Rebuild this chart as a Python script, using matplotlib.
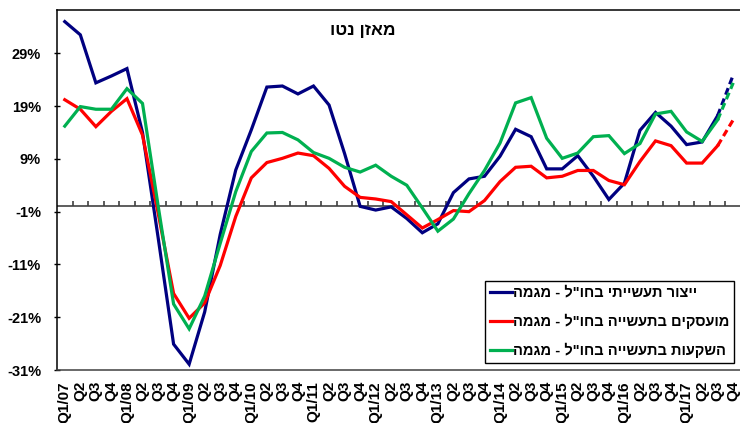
import matplotlib
matplotlib.use("Agg")
import matplotlib.pyplot as plt

plt.rcParams["font.family"] = ["Liberation Sans", "DejaVu Sans"]
plt.rcParams["font.weight"] = "bold"

# quarters Q1/07 .. Q4/17
years = ["07", "08", "09", "10", "11", "12", "13", "14", "15", "16", "17"]
quarter_labels = []
for yy in years:
    quarter_labels += [f"Q1/{yy}", "Q2", "Q3", "Q4"]

production = [35.0, 32.5, 23.4, 24.7, 26.1, 14.0, -5.8, -26.1, -29.9, -20.0, -5.3, 6.9,
              14.5, 22.6, 22.8, 21.3, 22.8, 19.2, 10.0, 0.0, -0.7, -0.1, -2.3, -5.0,
              -3.3, 2.6, 5.2, 5.7, 9.5, 14.6, 13.2, 7.1, 7.1, 9.6, 5.7, 1.3,
              4.4, 14.4, 17.8, 15.2, 11.7, 12.2, 17.2, 24.9]
employed = [20.2, 18.4, 15.1, 18.0, 20.4, 13.5, -1.2, -16.5, -21.2, -18.3, -11.2, -1.9,
            5.4, 8.3, 9.1, 10.1, 9.6, 7.2, 3.8, 1.7, 1.4, 0.9, -1.6, -4.1,
            -2.5, -0.8, -1.0, 1.1, 4.7, 7.4, 7.6, 5.4, 5.7, 6.8, 6.8, 4.9,
            4.1, 8.5, 12.4, 11.5, 8.2, 8.2, 11.5, 16.4]
investment = [15.2, 18.9, 18.4, 18.4, 22.3, 19.5, 0.2, -18.5, -23.2, -17.0, -7.0, 2.8,
              10.4, 13.9, 14.0, 12.6, 10.2, 9.1, 7.4, 6.5, 7.8, 5.7, 4.0, -0.3,
              -4.7, -2.4, 2.4, 6.8, 12.0, 19.6, 20.6, 12.9, 9.1, 10.1, 13.2, 13.4,
              10.0, 11.9, 17.5, 18.0, 14.1, 12.3, 16.4, 23.4]

series_names = ['ייצור תעשייתי בחו"ל - מגמה',
                'מועסקים בתעשייה בחו"ל - מגמה',
                'השקעות בתעשייה בחו"ל - מגמה']
series_colors = ["#000080", "#FF0000", "#00B050"]
title_text = "מאזן נטו"
y_ticks = [-31, -21, -11, -1, 9, 19, 29]


def rtl(s):
    # matplotlib has no bidi support: draw Hebrew in visual order
    return s[::-1]


fig = plt.figure(figsize=(7.4, 4.23), dpi=100)
ax = fig.add_axes([57 / 740, 53 / 423, 684 / 740, 360 / 423])

x = list(range(len(quarter_labels)))
n_solid = len(x) - 1  # last quarter is a forecast -> dashed
for vals, name, col in zip([production, employed, investment], series_names, series_colors):
    ax.plot(x[:n_solid], vals[:n_solid], color=col, lw=2.3, label=rtl(name),
            solid_joinstyle="miter", zorder=3)
    ax.plot(x[n_solid - 1:], vals[n_solid - 1:], color=col, lw=2.3, ls=(0, (2.2, 1.3)),
            zorder=3)

# zero line with category tick marks
ax.axhline(0, color="#505050", lw=1.3, zorder=2)
ax.vlines([i + 0.5 for i in x[:-1]], 0, 1.05, color="#404040", lw=1.2, zorder=2)

ax.set_xlim(-0.5, len(x) - 0.5)
ax.set_ylim(-31, 37.2)
ax.set_yticks(y_ticks)
ax.set_yticklabels([f"{v}%" for v in y_ticks], fontsize=10.5, fontweight="bold")
ax.set_xticks(x)
ax.set_xticklabels(quarter_labels, rotation=90, fontsize=11, fontweight="bold", va="top")
ax.tick_params(axis="x", length=0, pad=8)
ax.tick_params(axis="y", direction="inout", length=5, width=1, pad=9)

for side in ["left", "top"]:
    ax.spines[side].set_color("black")
    ax.spines[side].set_linewidth(1.1)
ax.spines["bottom"].set_color("#404040")
ax.spines["bottom"].set_linewidth(1.1)
ax.spines["right"].set_visible(False)

fig.text(363 / 740, 1 - 30 / 423, rtl(title_text), fontsize=12.5, fontweight="bold",
         ha="center", va="center")

leg = ax.legend(loc="lower right", bbox_to_anchor=(0.990, 0.019), borderaxespad=0,
                fancybox=False, edgecolor="black", framealpha=1,
                prop={"size": 10.5, "weight": "bold"}, handlelength=1.5,
                handletextpad=0.05, labelspacing=0.95, borderpad=0.35)
leg.get_frame().set_linewidth(1.0)

fig.savefig("out.png", dpi=100)
